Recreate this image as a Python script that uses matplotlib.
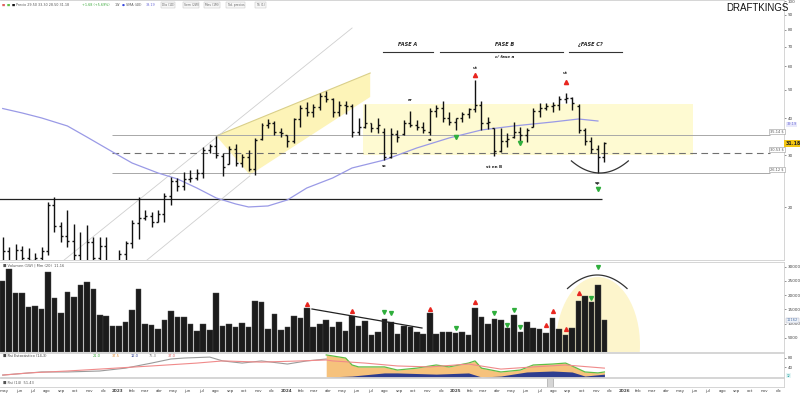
import numpy as np
import pandas as pd
import matplotlib
matplotlib.use("Agg")
import matplotlib.pyplot as plt
import matplotlib.dates as mdates
from matplotlib.patches import Polygon, Rectangle, Ellipse

plt.rcParams['font.family'] = ['DejaVu Sans']

# ---------------- data (biweekly bars) ----------------
first_bar = "2022-04-27"
bar_days = 14

opens = [13.0, 14.2, 12.8, 14.3, 13.4, 13.2, 13.5, 14.2, 20.4, 17.2,
         16.0, 15.3, 13.8, 13.1, 15.2, 13.5, 14.8, 12.9, 11.6, 13.9,
         15.1, 17.7, 18.4, 18.7, 17.8, 19.0, 21.8, 24.6, 23.6, 24.9,
         25.1, 26.2, 31.3, 32.2, 29.8, 28.0, 31.5, 28.3, 29.6, 27.0,
         34.0, 38.0, 38.6, 36.0, 35.0, 33.5, 39.8, 43.5, 42.0, 43.8,
         47.5, 46.5, 42.0, 44.5, 44.0, 36.0, 37.5, 38.5, 37.0, 36.0,
         29.5, 35.5, 35.5, 38.5, 38.0, 37.5, 36.0, 42.5, 43.5, 40.0,
         39.0, 40.0, 41.5, 43.0, 44.5, 38.5, 37.0, 31.0, 33.5, 34.5,
         36.0, 35.0, 37.5, 42.5, 43.5, 44.0, 44.5, 46.5, 47.0, 44.0,
         36.5, 33.5, 31.5, 29.5]
highs = [15.85, 14.7, 15.0, 14.8, 14.5, 14.0, 14.7, 20.8, 21.7, 17.8,
         19.6, 17.5, 16.5, 17.4, 15.85, 15.85, 15.9, 13.1, 14.3, 15.4,
         18.1, 21.7, 19.6, 19.3, 19.6, 22.35, 25.3, 25.1, 26.3, 26.7,
         26.9, 32.0, 32.75, 34.87, 30.5, 32.2, 32.75, 30.3, 31.3, 34.3,
         38.6, 39.8, 39.2, 37.1, 35.14, 40.1, 44.4, 45.5, 44.8, 48.8,
         49.5, 46.9, 45.8, 45.8, 44.8, 40.1, 44.8, 38.6, 40.1, 37.1,
         37.1, 36.5, 39.5, 42.4, 39.5, 38.9, 43.4, 44.4, 45.8, 42.05,
         40.1, 42.05, 43.4, 54.0, 45.8, 40.45, 37.1, 37.1, 35.7, 38.9,
         37.4, 37.1, 43.4, 45.1, 45.1, 45.5, 47.6, 48.8, 47.3, 44.8,
         37.1, 34.6, 32.5, 33.3]
lows = [12.5, 12.0, 12.4, 12.8, 12.6, 12.5, 12.9, 13.8, 16.5, 15.2,
        14.7, 13.0, 12.5, 12.2, 12.4, 12.5, 12.3, 11.0, 11.3, 12.8,
        14.5, 15.6, 18.1, 17.1, 17.8, 17.8, 20.4, 22.7, 22.9, 24.35,
        24.7, 25.1, 30.5, 29.4, 25.5, 28.0, 27.6, 27.4, 26.5, 25.7,
        33.8, 37.1, 35.1, 34.6, 32.0, 33.0, 37.4, 40.8, 40.45, 42.7,
        45.5, 40.45, 40.8, 41.4, 34.6, 35.1, 37.1, 36.0, 35.7, 28.9,
        29.4, 33.3, 35.1, 37.4, 36.5, 35.7, 35.1, 40.45, 38.9, 38.0,
        36.5, 38.9, 40.1, 42.05, 36.5, 36.8, 29.8, 30.8, 32.0, 34.3,
        33.0, 33.3, 37.4, 40.45, 42.7, 42.05, 42.7, 45.1, 42.7, 35.7,
        32.5, 30.5, 26.1, 28.5]
closes = [14.2, 12.8, 14.3, 13.4, 13.2, 13.5, 14.2, 20.4, 17.2, 16.0,
          15.3, 13.8, 13.1, 15.2, 13.5, 14.8, 12.9, 11.6, 13.9, 15.1,
          17.7, 18.4, 18.7, 17.8, 19.0, 21.8, 24.6, 23.6, 24.9, 25.1,
          26.2, 31.3, 32.2, 30.0, 27.4, 31.5, 28.3, 29.6, 27.0, 33.8,
          38.0, 38.6, 36.0, 35.6, 33.5, 39.8, 43.5, 42.0, 43.8, 47.5,
          46.5, 42.0, 44.5, 44.0, 36.0, 37.5, 38.5, 37.0, 38.0, 29.5,
          35.5, 34.5, 38.5, 38.0, 37.5, 36.5, 42.5, 43.5, 40.0, 39.0,
          40.0, 41.5, 43.0, 44.5, 38.5, 38.8, 31.0, 33.5, 34.0, 36.0,
          35.0, 36.5, 42.5, 43.5, 44.0, 44.5, 46.5, 47.0, 45.0, 36.5,
          33.5, 31.5, 29.5, 32.9]
volumes = [25000, 29225, 20775, 20775, 15845, 16197, 15140, 28169, 19014, 13732,
           21127, 19366, 23592, 24648, 22183, 13028, 12676, 9155, 9155, 10563,
           14789, 22183, 9859, 9507, 8099, 11268, 14437, 12324, 12324, 9859,
           7394, 9859, 7746, 20775, 9155, 9859, 8803, 10211, 8803, 17958,
           17606, 8099, 13380, 7746, 8803, 12676, 11972, 15493, 8803, 9859,
           11268, 8803, 10563, 7394, 12676, 9155, 10916, 5986, 7042, 11620,
           10563, 6338, 9155, 8908, 7042, 6338, 13838, 6338, 7148, 7042,
           6690, 7042, 5986, 15598, 12429, 9753, 11620, 11162, 8345, 12922,
           7148, 10563, 8556, 7993, 6796, 12077, 8099, 5880, 8451, 18063,
           19824, 17711, 23592, 11162]
last_price_text = "31.18"

# moving average
sma_idx = [0, 3, 6, 10, 13, 17, 20, 24, 27, 30, 33, 36, 38, 41, 44, 47, 51, 54, 59, 64, 69, 74, 79, 85, 89, 92]
sma_vals = [43.2, 41.73, 40.14, 37.70, 34.59, 30.77, 28.23, 26.12, 24.93, 23.23, 21.49, 20.51, 20.03,
            20.19, 21.16, 23.23, 25.12, 27.16, 28.91, 31.75, 34.33, 36.54, 37.70, 38.89, 39.81, 39.19]

# oscillator panel
grey_idx = [0, 6, 10, 15, 19, 23, 26, 28, 32, 34, 37, 40, 44, 47, 50]
grey_vals = [8, 21, 21, 25, 37, 58, 75, 79, 83, 67, 58, 67, 54, 67, 75]
red_idx = [0, 4, 10, 15, 23, 30, 34, 40, 46, 50, 51, 56, 61, 66, 72, 77, 82, 87, 93]
red_vals = [8, 17, 25, 33, 46, 58, 67, 62, 67, 71, 67, 58, 46, 42, 54, 33, 42, 50, 37]
green_idx = [50, 53, 54, 55, 59, 61, 64, 67, 69, 72, 73, 74, 77, 80, 82, 85, 87, 88, 90, 92, 93]
green_vals = [92, 79, 50, 42, 42, 29, 37, 50, 42, 58, 67, 37, 21, 29, 50, 54, 58, 46, 21, 17, 21]
navy_idx = [50, 54, 59, 61, 67, 72, 74, 77, 81, 85, 88, 90, 93]
navy_vals = [0, 4, 17, 17, 12, 17, 0, 4, 21, 25, 21, 4, 12]

# levels and annotations
levels = [35.14, 30.53, 26.12]
support_level = 21.33
range_box = (55.7, 106.7, 30.06, 44.76)          # bar from, bar to, low, high
wedge = [(33.0, 34.87), (56.8, 57.0), (56.8, 47.27), (38.2, 25.72)]
channel_up = [(9.5, 13.24), (54.0, 81.0)]
channel_dn = [(22.3, 13.24), (38.2, 25.52)]
price_labels = [(73, 59.3, "ut"), (87, 57.0, "ut"), (59, 27.6, "sc"), (63, 46.2, "ar"),
                (66, 33.8, "st"), (76, 27.4, "st en B"), (92, 24.2, "sp")]
price_red = [(73, 56.1), (87, 53.1)]
price_green = [(70, 34.6), (80, 33.0), (92, 23.05)]
phases = [("FASE A", 62.6, 58.8, 66.5), ("FASE B", 77.6, 67.6, 86.6), ("¿FASE C?", 90.8, 87.5, 95.7)]
vol_red = [(47, 17000), (54, 14500), (66, 15300), (73, 17700), (84, 9400), (85, 14400), (87, 8100), (89, 20800)]
vol_green = [(59, 14100), (60, 13700), (70, 8400), (76, 13700), (78, 9400), (79, 14800), (80, 8800),
             (91, 19100), (92, 29900)]

price_ticks = [20, 30, 40, 50, 60, 70, 80, 90, 100]
vol_ticks = [5000, 10000, 15000, 20000, 25000, 30000]
osc_ticks = [40, 80]
meses = ['ene', 'feb', 'mar', 'abr', 'may', 'jun', 'jul', 'ago', 'sep', 'oct', 'nov', 'dic']

# ---------------- figure ----------------
W, H = 800, 394
fig = plt.figure(figsize=(8, 3.94), dpi=100)
fig.patch.set_facecolor('white')

def box(top, bottom):
    return [0, 1 - bottom / H, 784 / W, (bottom - top) / H]

axp = fig.add_axes(box(0, 260))
axv = fig.add_axes(box(262, 352), sharex=axp)
axi = fig.add_axes(box(353, 377), sharex=axp)
axr = fig.add_axes(box(378, 387), sharex=axp)

dates = pd.date_range(first_bar, periods=len(opens), freq=f"{bar_days}D")
x = mdates.date2num(dates)
def xb(i):
    return x[0] + bar_days * np.asarray(i, dtype=float)

for a in (axp, axv, axi, axr):
    for s in a.spines.values():
        s.set_color('#cfcfcf')
        s.set_linewidth(0.6)
    a.spines['left'].set_visible(False)
    a.yaxis.tick_right()
    a.tick_params(axis='y', labelsize=3, length=1.5, pad=1, colors='#444', width=0.4)
    a.tick_params(axis='x', length=0, labelbottom=False)
    a.set_facecolor('white')

axp.set_xlim(xb(-0.42), xb(120.76))

# ---------- price panel ----------
axp.set_yscale('log')
axp.set_ylim(13.24, 100.8)
axp.yaxis.set_major_locator(matplotlib.ticker.FixedLocator(price_ticks))
axp.yaxis.set_major_formatter(matplotlib.ticker.FixedFormatter([str(t) for t in price_ticks]))
axp.yaxis.set_minor_locator(matplotlib.ticker.NullLocator())

rx0, rx1, rlo, rhi = range_box
axp.add_patch(Rectangle((xb(rx0), rlo), xb(rx1) - xb(rx0), rhi - rlo,
                        facecolor='#fefad2', edgecolor='none', zorder=0))
axp.add_patch(Polygon([(xb(i), p) for i, p in wedge], closed=True,
                      facecolor='#fdf4b8', edgecolor='none', zorder=0))
axp.plot([xb(wedge[0][0]), xb(wedge[1][0])], [wedge[0][1], wedge[1][1]], color='#d9cf8a', lw=0.8, zorder=1)
axp.plot([xb(p[0]) for p in channel_up], [p[1] for p in channel_up], color='#cfcfcf', lw=0.6, zorder=1)
axp.plot([xb(p[0]) for p in channel_dn], [p[1] for p in channel_dn], color='#cfcfcf', lw=0.6, zorder=1)

axp.hlines([levels[0], levels[2]], xb(16.9), xb(118.6), color='#a8a8a8', lw=0.7, zorder=1)
axp.hlines(levels[1], xb(16.9), xb(118.6), color='#707070', lw=0.8, linestyles=(0, (6, 4)), zorder=1)
axp.hlines(support_level, xb(-1), xb(92.6), color='#222222', lw=0.9, zorder=1)
for lv in levels:
    axp.text(xb(119.7), lv * 1.012, f"{lv:.2f} $", fontsize=2.6, color='#555', ha='center', va='bottom',
             bbox=dict(boxstyle='square,pad=0.25', fc='white', ec='#999', lw=0.4))

axp.plot(xb(sma_idx), sma_vals, color='#9a9ae6', lw=0.9, zorder=2)

tick = 4.3
axp.vlines(x, lows, highs, color='#111', lw=1.0, zorder=3)
axp.hlines(opens, x - tick, x, color='#111', lw=1.0, zorder=3)
axp.hlines(closes, x, x + tick, color='#111', lw=1.0, zorder=3)

# arc below the last bars
ic, hw = 92.3, 4.4
ii = np.linspace(ic - hw, ic + hw, 60)
lb, le = np.log10(26.12), np.log10(28.7)
axp.plot(xb(ii), 10 ** (lb + (le - lb) * ((ii - ic) / hw) ** 2), color='#333', lw=0.9, zorder=3)

for i, p in price_red:
    axp.plot(xb(i), p, marker='^', color='#e8261f', ms=3, zorder=4)
for i, p in price_green:
    axp.plot(xb(i), p, marker='v', color='#2fae3c', ms=3, zorder=4)
for i, p, t in price_labels:
    axp.text(xb(i), p, t, fontsize=3, ha='center', va='center', color='#222', fontweight='bold')
for name, ic_, i0, i1 in phases:
    axp.text(xb(ic_), 71.0, name, fontsize=3.6, ha='center', va='center', style='italic',
             fontweight='bold', color='#222')
    axp.plot([xb(i0), xb(i1)], [67.2, 67.2], color='#333', lw=0.8)
axp.text(xb(77.6), 64.6, "c/ fase a", fontsize=3, ha='center', va='center', style='italic',
         fontweight='bold', color='#222')

# right-axis tags
axp.annotate(f"{sma_vals[-1]:.2f}", xy=(1.0, sma_vals[-1]), xycoords=('axes fraction', 'data'),
             xytext=(2, -2.2), textcoords='offset points', fontsize=2.5, color='#6c6cd8', va='center',
             ha='left', annotation_clip=False,
             bbox=dict(boxstyle='square,pad=0.15', fc='#e8e8fb', ec='none'))
axp.annotate(last_price_text, xy=(1.0, closes[-1]), xycoords=('axes fraction', 'data'),
             xytext=(1, 0), textcoords='offset points', fontsize=3.4, color='#222', va='center',
             ha='left', fontweight='bold', annotation_clip=False,
             bbox=dict(boxstyle='square,pad=0.25', fc='#f3c614', ec='none'))

# ---------- volume panel ----------
axv.set_ylim(0, 31690)
axv.yaxis.set_major_locator(matplotlib.ticker.FixedLocator(vol_ticks))
axv.yaxis.set_major_formatter(matplotlib.ticker.FixedFormatter([str(t) for t in vol_ticks]))
axv.add_patch(Ellipse((xb(92.0), 2465), 13 * bar_days, 47886, facecolor='#fdf5cc', edgecolor='none', zorder=0))
axv.bar(x, volumes, width=bar_days * 0.86, color='#1c1c1c', edgecolor='#4a4a4a', lw=0.3, zorder=2)
axv.plot([xb(47.8), xb(64.8)], [15140, 8450], color='#222', lw=0.9, zorder=3)
ic2, hw2 = 91.9, 4.6
ii2 = np.linspace(ic2 - hw2, ic2 + hw2, 60)
axv.plot(xb(ii2), 27112 - (27112 - 22358) * ((ii2 - ic2) / hw2) ** 2, color='#333', lw=0.9, zorder=3)
for i, v in vol_red:
    axv.plot(xb(i), v, marker='^', color='#e8261f', ms=2.8, zorder=4)
for i, v in vol_green:
    axv.plot(xb(i), v, marker='v', color='#2fae3c', ms=2.8, zorder=4)
axv.annotate(f"{volumes[-1]}", xy=(1.0, volumes[-1]), xycoords=('axes fraction', 'data'),
             xytext=(2, 0), textcoords='offset points', fontsize=2.6, color='#5577aa', va='center',
             ha='left', annotation_clip=False,
             bbox=dict(boxstyle='square,pad=0.2', fc='#eef2f8', ec='#aab', lw=0.3))
axv.text(0.004, 0.985, "■ Volumen (1W) | Mm (20)  11.16", transform=axv.transAxes, fontsize=2.6,
         color='#555', va='top', ha='left')

# ---------- oscillator panel ----------
axi.set_ylim(0, 100)
axi.yaxis.set_major_locator(matplotlib.ticker.FixedLocator(osc_ticks))
axi.yaxis.set_major_formatter(matplotlib.ticker.FixedFormatter([str(t) for t in osc_ticks]))
axi.fill_between(xb(green_idx), 0, green_vals, color='#f6c27c', lw=0, zorder=1)
axi.fill_between(xb(navy_idx), 0, navy_vals, color='#2e3d8f', lw=0, zorder=2)
axi.plot(xb(green_idx), green_vals, color='#5fbf45', lw=0.9, zorder=3)
axi.plot(xb(grey_idx), grey_vals, color='#9a9a9a', lw=0.8, zorder=3)
axi.plot(xb(red_idx), red_vals, color='#f08a8a', lw=0.8, zorder=3)
axi.annotate(f"{navy_vals[-1]}", xy=(1.0, navy_vals[-1]), xycoords=('axes fraction', 'data'),
             xytext=(2, -1), textcoords='offset points', fontsize=2.2, color='#119999', va='center',
             ha='left', annotation_clip=False,
             bbox=dict(boxstyle='square,pad=0.1', fc='#e6f6f6', ec='none'))
legend_parts = [("■ Rsi Estocástico (14,3)", '#444'), ("21.0", '#3aa83a'), ("37.5", '#e08a30'),
                ("12.0", '#2e3d8f'), ("75.0", '#888'), ("37.0", '#e06060')]
xpos = 0.004
for txt, col in legend_parts:
    axi.text(xpos, 0.96, txt, transform=axi.transAxes, fontsize=2.6, color=col, va='top', ha='left')
    xpos += 0.0045 * len(txt) + 0.006

# ---------- small rsi panel ----------
axr.set_ylim(0, 1)
axr.yaxis.set_major_locator(matplotlib.ticker.NullLocator())
axr.text(0.004, 0.5, "■ Rsi (14)  51.43", transform=axr.transAxes, fontsize=2.6, color='#555',
         va='center', ha='left')
axr.add_patch(Rectangle((xb(84.1), 0.05), bar_days * 1.0, 0.95, facecolor='#d6d6d6',
                        edgecolor='#999', lw=0.4, zorder=2))

# month labels
months = pd.date_range("2022-05-01", "2026-12-01", freq="MS")
mx = mdates.date2num(months)
labels = [str(m.year) if m.month == 1 else meses[m.month - 1] for m in months]
axr.set_xticks(mx)
axr.set_xticklabels(labels)
axr.tick_params(axis='x', labelbottom=True, labelsize=3, pad=1.5, colors='#444', length=0)
for lab, m in zip(axr.get_xticklabels(), months):
    if m.month == 1:
        lab.set_fontweight('bold')
for a in (axp, axv, axi):
    a.tick_params(axis='x', labelbottom=False)

# header and title
def fx(px):
    return px / W
def fy(py):
    return 1 - py / H

fig.text(fx(757), fy(8), "DRAFTKINGS", fontsize=7, family=['Liberation Sans', 'DejaVu Sans'],
         ha='center', va='center', color='#111')

hfs = 2.4
def tw(txt, fs):
    return len(txt) * fs * 1.389 * 0.64

header = [("■", '#e06060'), ("■", '#5fbf45'), ("■", '#111'),
          ("Precio 29.50 33.30 28.50 31.18", '#555'),
          ("+1.68 (+5.69%)", '#3aa83a'), ("1W", '#555'), ("●", '#3344dd'),
          ("SMA (40)", '#555'), (f"{sma_vals[-1]:.2f}", '#6c6cd8')]
hx = 2
for txt, col in header:
    fig.text(fx(hx), fy(5), txt, fontsize=hfs, color=col, ha='left', va='center')
    hx += tw(txt, hfs) + 2.5
hx += 3
for txt in ["Día (1D)", "Sem (2W)", "Mes (1M)", "Tod. precios", "TS (1)"]:
    fig.text(fx(hx), fy(5), txt, fontsize=2.2, color='#666', ha='left', va='center',
             bbox=dict(boxstyle='square,pad=0.3', fc='#f7f7f7', ec='#bbb', lw=0.3))
    hx += tw(txt, 2.2) + 6

fig.savefig("out.png", dpi=100, facecolor='white')
